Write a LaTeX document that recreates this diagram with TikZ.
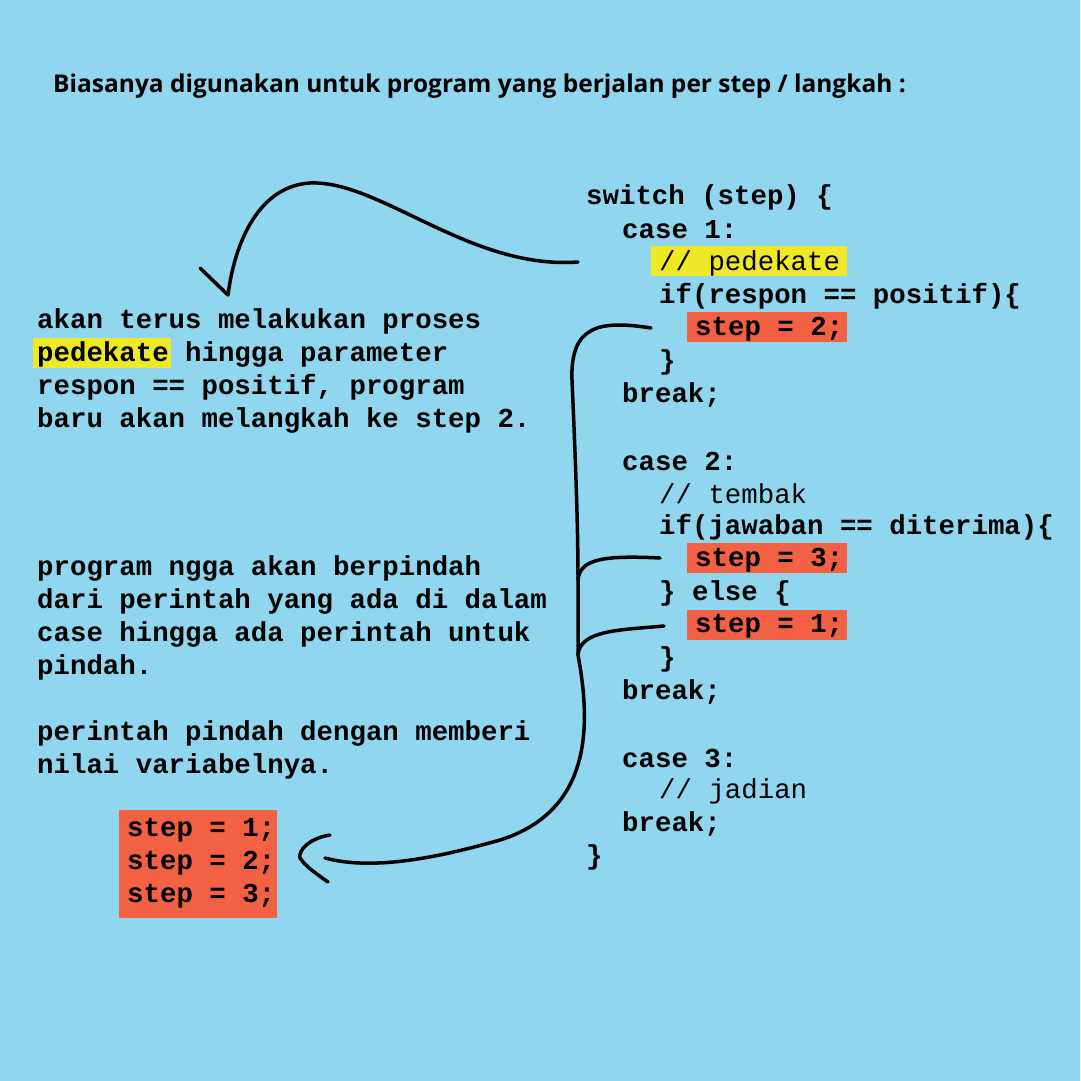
\documentclass[tikz,border=0pt]{standalone}
\usepackage{fontspec}
\setmainfont{Open Sans}
\newfontfamily\codefont{Liberation Mono}
\definecolor{bg}{HTML}{8FD6EE}
\definecolor{hlred}{HTML}{F26144}
\definecolor{hlyel}{HTML}{EEE826}
\begin{document}
\begin{tikzpicture}[x=1pt,y=-1pt,
  code/.style={anchor=west,inner sep=0pt,font=\codefont\fontsize{27.4}{27.4}\selectfont\bfseries},
  comment/.style={anchor=west,inner sep=0pt,font=\codefont\fontsize{27.4}{27.4}\selectfont},
  curve/.style={line width=3.5pt,line cap=round,line join=round}]
\fill[bg] (0,0) rectangle (1080,1081);
\useasboundingbox (0,0) rectangle (1080,1081);
\node[anchor=west,inner sep=0pt,font=\fontsize{24.5}{24.5}\selectfont\bfseries] (title) at (53,86) {Biasanya digunakan untuk program yang berjalan per step / langkah :};
% highlights
\fill[hlyel] (651,246) rectangle (847,276);
\fill[hlred] (687,312) rectangle (847,342);
\fill[hlred] (687,543) rectangle (847,573);
\fill[hlred] (687,610) rectangle (847,640);
\fill[hlyel] (33,338) rectangle (171,368);
\fill[hlred] (119,810) rectangle (277,918);
% code
\node[code] (c1) at (586,197) {switch (step) \{};
\node[code] (c2) at (622,230) {case 1:};
\node[comment] (c3) at (659,263) {// pedekate};
\node[code] (c4) at (659,296) {if(respon == positif)\{};
\node[code] (c5) at (695,329) {step = 2;};
\node[code] (c6) at (659,362) {\}};
\node[code] (c7) at (622,395) {break;};
\node[code] (c8) at (622,461) {case 2:};
\node[comment] (c9) at (659,494) {// tembak};
\node[code] (c10) at (659,527) {if(jawaban == diterima)\{};
\node[code] (c11) at (695,560) {step = 3;};
\node[code] (c12) at (659,593) {\} else \{};
\node[code] (c13) at (695,626) {step = 1;};
\node[code] (c14) at (659,659) {\}};
\node[code] (c15) at (622,692) {break;};
\node[code] (c16) at (622,758) {case 3:};
\node[comment] (c17) at (659,791) {// jadian};
\node[code] (c18) at (622,824) {break;};
\node[code] (c19) at (586,857) {\}};
% left text
\node[code] (t1) at (37,321) {akan terus melakukan proses};
\node[code] (t2) at (37,354) {pedekate hingga parameter};
\node[code] (t3) at (37,387) {respon == positif, program};
\node[code] (t4) at (37,420) {baru akan melangkah ke step 2.};
\node[code] (t5) at (37,568) {program ngga akan berpindah};
\node[code] (t6) at (37,601) {dari perintah yang ada di dalam};
\node[code] (t7) at (37,634) {case hingga ada perintah untuk};
\node[code] (t8) at (37,667) {pindah.};
\node[code] (t9) at (37,733) {perintah pindah dengan memberi};
\node[code] (t10) at (37,766) {nilai variabelnya.};
\node[code] (b1) at (127,830) {step = 1;};
\node[code] (b2) at (127,863) {step = 2;};
\node[code] (b3) at (127,896) {step = 3;};
% curves
\coordinate (a0) at (578,262);
\coordinate (a1) at (228,295);
\draw[curve] (a0) .. controls (470,270) and (380,180) .. (310,183)
  .. controls (260,186) and (235,240) .. (a1);
\draw[curve] (200,268) -- (a1);
\coordinate (s0) at (651,328);
\coordinate (s1) at (578,580);
\coordinate (s2) at (578,655);
\coordinate (s3) at (325,858);
\draw[curve] (s0) .. controls (600,320) and (570,325) .. (572,380)
  .. controls (575,450) and (578,520) .. (s1) -- (s2)
  .. controls (590,720) and (595,810) .. (500,840)
  .. controls (430,860) and (370,870) .. (s3);
\draw[curve] (660,558) .. controls (600,555) and (580,560) .. (s1);
\draw[curve] (664,626) .. controls (620,630) and (580,630) .. (s2);
\draw[curve] (330,835) .. controls (310,838) and (298,850) .. (300,858)
  .. controls (305,866) and (318,875) .. (328,882);
\end{tikzpicture}
\end{document}
